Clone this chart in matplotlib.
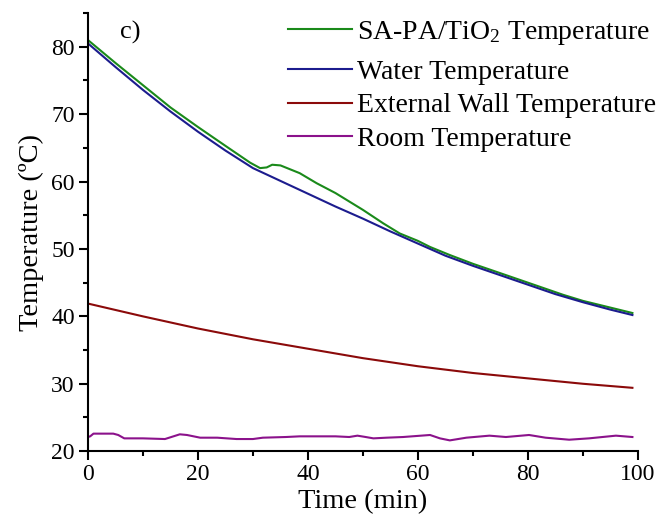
import matplotlib
matplotlib.use("Agg")
import matplotlib.pyplot as plt
from matplotlib.ticker import MultipleLocator

plt.rcParams['font.family'] = ['Liberation Serif', 'DejaVu Serif']
plt.rcParams['mathtext.fontset'] = 'custom'
plt.rcParams['mathtext.rm'] = 'Liberation Serif'
plt.rcParams['mathtext.it'] = 'Liberation Serif:italic'

# SA-PA/TiO2
t_pcm = [0, 5, 10, 15, 20, 25, 29.5, 31.3, 32.5, 33.5, 35, 38.5, 41.6, 45, 47.6, 50,
         53.7, 56.7, 60, 62.2, 65.8, 70, 74.3, 80, 86.4, 90, 95, 99]
T_pcm = [81.0, 77.6, 74.3, 71.0, 68.1, 65.3, 62.8, 62.0, 62.1, 62.5, 62.4, 61.25, 59.75, 58.3, 57.0, 55.8,
         53.8, 52.3, 51.2, 50.3, 49.1, 47.8, 46.6, 45.0, 43.2, 42.3, 41.3, 40.5]

# water
t_water = [0, 5, 10, 15, 20, 25, 30, 35, 40, 45, 50, 55, 60, 65, 70, 75, 80, 85, 90, 95, 99]
T_water = [80.5, 77.0, 73.6, 70.4, 67.4, 64.6, 62.0, 60.1, 58.2, 56.3, 54.5, 52.6, 50.8, 49.0,
           47.5, 46.1, 44.7, 43.3, 42.1, 41.0, 40.2]

# external wall
t_wall = [0, 10, 20, 30, 40, 50, 60, 70, 80, 90, 99]
T_wall = [41.9, 40.0, 38.2, 36.6, 35.2, 33.8, 32.6, 31.6, 30.8, 30.0, 29.4]

# room
t_room = [0, 0.4, 1, 4.6, 5.5, 6.6, 10, 14, 16.7, 18, 20.4, 23.5, 27, 30, 31.8, 36, 38.5, 42, 45,
          47.5, 49, 50.5, 51.9, 54.3, 57.3, 62.2, 64, 65.8, 68.8, 73, 76, 80.2, 83.2, 87.5, 91.1, 96, 99]
T_room = [22.1, 22.2, 22.6, 22.6, 22.4, 21.9, 21.9, 21.8, 22.5, 22.4, 22.0, 22.0, 21.8, 21.8, 22.0, 22.1,
          22.2, 22.2, 22.2, 22.1, 22.3, 22.1, 21.9, 22.0, 22.1, 22.4, 21.9, 21.6, 22.0, 22.3, 22.1, 22.4,
          22.0, 21.7, 21.9, 22.3, 22.1]

fig = plt.figure(figsize=(6.59, 5.24), dpi=100)
ax = fig.add_axes([0.1335, 0.139, 0.968 - 0.1335, 0.975 - 0.139])

lw = 1.5
ax.plot(t_pcm, T_pcm, color='#1a8a1a', lw=lw, label='SA-PA/TiO$_2$ Temperature')
ax.plot(t_water, T_water, color='#1c1c8e', lw=lw, label='Water Temperature')
ax.plot(t_wall, T_wall, color='#8b0a0a', lw=lw, label='External Wall Temperature')
ax.plot(t_room, T_room, color='#8b128b', lw=lw, label='Room Temperature')

ax.set_xlim(0, 100)
ax.set_ylim(20, 85)
ax.xaxis.set_major_locator(MultipleLocator(20))
ax.xaxis.set_minor_locator(MultipleLocator(10))
ax.yaxis.set_minor_locator(MultipleLocator(5))
ax.set_yticks([20, 30, 40, 50, 60, 70, 80])

for side in ['top', 'right']:
    ax.spines[side].set_visible(False)
for side in ['left', 'bottom']:
    ax.spines[side].set_linewidth(1.5)

ax.tick_params(which='major', direction='out', length=6.5, width=1.5, labelsize=17, pad=3)
ax.tick_params(which='minor', direction='out', length=3.5, width=1.5)

ax.set_xlabel('Time (min)', fontsize=20.5, labelpad=3)
ax.set_ylabel('Temperature (ºC)', fontsize=20.5, labelpad=5)

ax.text(0.058, 0.955, 'c)', transform=ax.transAxes, fontsize=19, va='center', ha='left')

# legend in two parts: the subscript row sits a bit higher in the original
handles, labels = ax.get_legend_handles_labels()
leg_kw = dict(loc='upper left', bbox_transform=fig.transFigure, frameon=False, fontsize=20,
              handlelength=2.3, handletextpad=0.18, labelspacing=0.29, borderpad=0, borderaxespad=0)
leg1 = ax.legend(handles[:1], labels[:1], bbox_to_anchor=(0.437, 1 - 19 / 524), **leg_kw)
ax.add_artist(leg1)
ax.legend(handles[1:], labels[1:], bbox_to_anchor=(0.437, 1 - 59.5 / 524), **leg_kw)

fig.savefig('out.png', dpi=100)
